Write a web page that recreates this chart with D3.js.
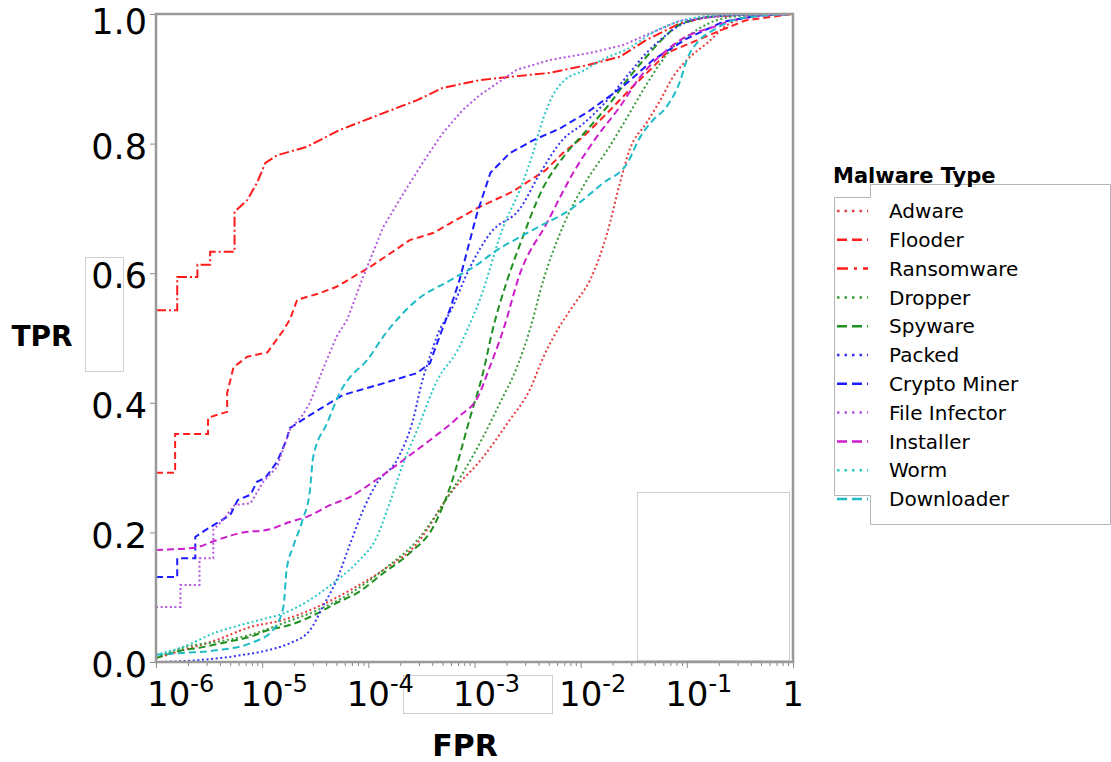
<!DOCTYPE html>
<html>
<head>
<meta charset="utf-8">
<script src="https://d3js.org/d3.v7.min.js"></script>
<style>
  body { margin: 0; background: #fff; }
  text { font-family: "DejaVu Sans", Verdana, sans-serif; fill: #000; }
</style>
</head>
<body>
<script>
// FPR stored as log10 exponents, TPR as fractions
var adwareLogFpr = [-6, -5.75, -5.43, -5.11, -4.80, -4.48, -4.17, -3.86, -3.54, -3.23, -2.95, -2.67, -2.48, -2.35, -2.22, -2.07, -1.91, -1.75, -1.63, -1.54, -1.38, -1.25, -1.13, -1.00, -0.81, -0.6, -0.3, 0];
var adwareTpr    = [0.006, 0.018, 0.034, 0.054, 0.065, 0.085, 0.111, 0.142, 0.183, 0.26, 0.31, 0.373, 0.42, 0.471, 0.512, 0.55, 0.59, 0.662, 0.739, 0.79, 0.832, 0.867, 0.903, 0.929, 0.955, 0.985, 0.998, 1];

var flooderLogFpr = [-6, -5.82, -5.82, -5.51, -5.51, -5.33, -5.33, -5.27, -5.14, -4.95, -4.80, -4.74, -4.67, -4.46, -4.30, -3.98, -3.61, -3.39, -2.98, -2.64, -2.33, -2.17, -1.98, -1.75, -1.54, -1.32, -1.19, -1.04, -0.75, -0.45, 0];
var flooderTpr    = [0.292, 0.292, 0.352, 0.352, 0.377, 0.386, 0.415, 0.455, 0.471, 0.478, 0.512, 0.528, 0.559, 0.569, 0.579, 0.61, 0.651, 0.662, 0.70, 0.726, 0.759, 0.785, 0.81, 0.847, 0.883, 0.918, 0.94, 0.95, 0.97, 0.99, 1];

var ransomLogFpr = [-6, -5.80, -5.80, -5.61, -5.61, -5.49, -5.49, -5.26, -5.26, -5.14, -5.05, -4.97, -4.86, -4.58, -4.27, -3.86, -3.54, -3.30, -2.95, -2.67, -2.30, -1.94, -1.63, -1.38, -1.06, -0.81, -0.4, 0];
var ransomTpr    = [0.543, 0.543, 0.594, 0.594, 0.613, 0.613, 0.633, 0.633, 0.695, 0.713, 0.739, 0.77, 0.782, 0.795, 0.821, 0.847, 0.867, 0.886, 0.898, 0.903, 0.909, 0.921, 0.934, 0.96, 0.986, 0.995, 1, 1];

var dropperLogFpr = [-6, -5.75, -5.43, -5.11, -4.80, -4.48, -4.17, -3.86, -3.54, -3.23, -2.92, -2.76, -2.60, -2.48, -2.35, -2.17, -1.94, -1.75, -1.56, -1.41, -1.25, -1.13, -1.00, -0.8, -0.5, 0];
var dropperTpr    = [0.006, 0.022, 0.031, 0.042, 0.06, 0.08, 0.106, 0.142, 0.188, 0.26, 0.347, 0.40, 0.455, 0.512, 0.59, 0.671, 0.744, 0.79, 0.841, 0.883, 0.924, 0.949, 0.965, 0.985, 0.997, 1];

var spywareLogFpr = [-6, -5.75, -5.59, -5.33, -5.11, -4.95, -4.74, -4.48, -4.30, -4.11, -3.86, -3.61, -3.39, -3.23, -3.04, -2.92, -2.83, -2.69, -2.57, -2.35, -2.15, -1.94, -1.72, -1.54, -1.38, -1.25, -1.05, -0.7, -0.4, 0];
var spywareTpr    = [0.006, 0.018, 0.022, 0.031, 0.039, 0.049, 0.057, 0.075, 0.091, 0.106, 0.137, 0.168, 0.208, 0.27, 0.378, 0.446, 0.512, 0.59, 0.645, 0.733, 0.782, 0.821, 0.863, 0.903, 0.934, 0.958, 0.985, 0.997, 0.999, 1];

var packedLogFpr = [-6, -5.59, -5.18, -4.95, -4.74, -4.55, -4.43, -4.30, -4.17, -4.05, -3.92, -3.73, -3.58, -3.49, -3.42, -3.33, -3.23, -3.04, -2.85, -2.57, -2.38, -2.17, -1.98, -1.75, -1.54, -1.38, -1.25, -1.06, -0.75, -0.4, 0];
var packedTpr    = [0, 0.003, 0.011, 0.018, 0.029, 0.049, 0.085, 0.126, 0.183, 0.234, 0.276, 0.312, 0.373, 0.435, 0.471, 0.512, 0.54, 0.61, 0.662, 0.70, 0.755, 0.806, 0.83, 0.867, 0.909, 0.94, 0.96, 0.983, 0.996, 0.999, 1];

var cryptoLogFpr = [-6, -5.80, -5.80, -5.63, -5.63, -5.52, -5.38, -5.30, -5.23, -5.11, -5.05, -4.97, -4.86, -4.77, -4.74, -4.55, -4.24, -3.86, -3.54, -3.42, -3.33, -3.23, -3.14, -2.98, -2.85, -2.67, -2.45, -2.20, -1.94, -1.72, -1.56, -1.32, -1.00, -0.66, -0.3, 0];
var cryptoTpr    = [0.131, 0.131, 0.16, 0.16, 0.193, 0.205, 0.219, 0.227, 0.25, 0.258, 0.278, 0.284, 0.309, 0.343, 0.361, 0.381, 0.412, 0.43, 0.446, 0.461, 0.502, 0.545, 0.59, 0.69, 0.755, 0.785, 0.805, 0.823, 0.848, 0.874, 0.894, 0.929, 0.962, 0.988, 0.998, 1];

var infectorLogFpr = [-6, -5.77, -5.77, -5.59, -5.59, -5.46, -5.46, -5.37, -5.26, -5.11, -4.99, -4.86, -4.74, -4.62, -4.55, -4.43, -4.30, -4.20, -4.05, -3.86, -3.67, -3.49, -3.30, -3.11, -2.95, -2.60, -2.29, -1.91, -1.60, -1.35, -1.06, -0.6, 0];
var infectorTpr    = [0.085, 0.085, 0.119, 0.119, 0.16, 0.16, 0.204, 0.219, 0.242, 0.245, 0.278, 0.301, 0.358, 0.381, 0.40, 0.451, 0.502, 0.528, 0.594, 0.671, 0.723, 0.77, 0.816, 0.852, 0.875, 0.914, 0.929, 0.94, 0.952, 0.97, 0.99, 0.998, 1];

var installerLogFpr = [-6, -5.65, -5.43, -5.18, -4.95, -4.74, -4.58, -4.36, -4.17, -3.98, -3.80, -3.61, -3.39, -3.16, -2.95, -2.88, -2.73, -2.57, -2.32, -2.07, -1.85, -1.63, -1.44, -1.22, -1.04, -0.75, -0.5, 0];
var installerTpr    = [0.173, 0.176, 0.188, 0.20, 0.204, 0.216, 0.224, 0.242, 0.255, 0.275, 0.296, 0.319, 0.346, 0.377, 0.415, 0.445, 0.512, 0.60, 0.677, 0.755, 0.81, 0.857, 0.903, 0.94, 0.962, 0.98, 0.993, 1];

var wormLogFpr = [-6, -5.75, -5.43, -5.27, -5.02, -4.80, -4.55, -4.33, -4.11, -3.92, -3.80, -3.67, -3.54, -3.35, -3.16, -3.07, -2.95, -2.73, -2.57, -2.45, -2.35, -2.26, -2.15, -1.98, -1.79, -1.56, -1.28, -1.04, -0.7, 0];
var wormTpr    = [0.011, 0.023, 0.046, 0.054, 0.065, 0.075, 0.096, 0.122, 0.153, 0.193, 0.245, 0.307, 0.358, 0.435, 0.481, 0.512, 0.559, 0.671, 0.73, 0.785, 0.84, 0.875, 0.898, 0.912, 0.93, 0.946, 0.975, 0.99, 0.998, 1];

var downloaderLogFpr = [-6, -5.75, -5.43, -5.11, -4.90, -4.80, -4.77, -4.71, -4.62, -4.55, -4.52, -4.39, -4.24, -4.17, -4.01, -3.86, -3.54, -3.23, -2.95, -2.83, -2.57, -2.45, -2.10, -1.79, -1.56, -1.44, -1.32, -1.19, -1.06, -1.00, -0.88, -0.75, -0.5, 0];
var downloaderTpr    = [0.011, 0.014, 0.018, 0.029, 0.049, 0.085, 0.142, 0.177, 0.219, 0.265, 0.316, 0.368, 0.424, 0.44, 0.466, 0.502, 0.559, 0.589, 0.616, 0.631, 0.656, 0.667, 0.698, 0.739, 0.77, 0.81, 0.836, 0.857, 0.898, 0.929, 0.96, 0.975, 0.993, 1];

var seriesNames = ["Adware", "Flooder", "Ransomware", "Dropper", "Spyware", "Packed", "Crypto Miner", "File Infector", "Installer", "Worm", "Downloader"];
var xTickExponents = [-6, -5, -4, -3, -2, -1, 0];
var yTickValues = [0, 0.2, 0.4, 0.6, 0.8, 1.0];

var dotted = "2,2.6", dashed = "7,4", dashDot = "10,3,2,3";

var series = [
  {name: seriesNames[0],  fpr: adwareLogFpr,     tpr: adwareTpr,     color: "#e8393c", dash: dotted,  step: false},
  {name: seriesNames[1],  fpr: flooderLogFpr,    tpr: flooderTpr,    color: "#ff1f1f", dash: dashed,  step: true},
  {name: seriesNames[2],  fpr: ransomLogFpr,     tpr: ransomTpr,     color: "#ff1a1a", dash: dashDot, step: true},
  {name: seriesNames[3],  fpr: dropperLogFpr,    tpr: dropperTpr,    color: "#3a9a3a", dash: dotted,  step: false},
  {name: seriesNames[4],  fpr: spywareLogFpr,    tpr: spywareTpr,    color: "#1f8f1f", dash: dashed,  step: false},
  {name: seriesNames[5],  fpr: packedLogFpr,     tpr: packedTpr,     color: "#3535ee", dash: dotted,  step: false},
  {name: seriesNames[6],  fpr: cryptoLogFpr,     tpr: cryptoTpr,     color: "#1c1cff", dash: dashed,  step: true},
  {name: seriesNames[7],  fpr: infectorLogFpr,   tpr: infectorTpr,   color: "#b455e0", dash: dotted,  step: true},
  {name: seriesNames[8],  fpr: installerLogFpr,  tpr: installerTpr,  color: "#cc1ecc", dash: dashed,  step: false},
  {name: seriesNames[9],  fpr: wormLogFpr,       tpr: wormTpr,       color: "#2ec8c8", dash: dotted,  step: false},
  {name: seriesNames[10], fpr: downloaderLogFpr, tpr: downloaderTpr, color: "#1fbcc8", dash: dashed,  step: false}
];

var W = 1111, H = 762;
var plotLeft = 156, plotRight = 793, plotTop = 14, plotBottom = 662;

var svg = d3.select("body").append("svg")
  .attr("width", W)
  .attr("height", H);

var x = d3.scaleLog().domain([1e-6, 1]).range([plotLeft, plotRight]);
var y = d3.scaleLinear().domain([0, 1]).range([plotBottom, plotTop]);

// stray grey boxes present in the original figure
var ghost = svg.append("g").attr("fill", "none").attr("stroke", "#cfcfcf").attr("stroke-width", 1);
ghost.append("rect").attr("x", 85.5).attr("y", 257.5).attr("width", 38).attr("height", 114);
ghost.append("rect").attr("x", 403.5).attr("y", 675.5).attr("width", 149).attr("height", 38);
ghost.append("rect").attr("x", 637.5).attr("y", 492.5).attr("width", 152).attr("height", 168);

// minor ticks on the log axis
var minor = [];
xTickExponents.slice(0, -1).forEach(function(e) {
  for (var k = 2; k <= 9; k++) minor.push(k * Math.pow(10, e));
});
svg.append("g")
  .attr("transform", "translate(0," + plotBottom + ")")
  .call(d3.axisBottom(x).tickValues(minor).tickSize(4).tickFormat(""))
  .call(function(g) { g.select(".domain").remove(); g.selectAll("line").attr("stroke", "#888"); });

svg.append("g")
  .attr("transform", "translate(0," + plotBottom + ")")
  .call(d3.axisBottom(x).tickValues(xTickExponents.map(function(e) { return Math.pow(10, e); })).tickSize(6).tickFormat(""))
  .call(function(g) { g.select(".domain").remove(); g.selectAll("line").attr("stroke", "#888"); });

// x tick labels with superscript exponents
var xl = svg.append("g");
xTickExponents.forEach(function(e) {
  var t = xl.append("text").attr("y", 706).style("font-size", "34px");
  if (e === 0) {
    t.attr("x", x(1)).attr("text-anchor", "middle").text("1");
  } else {
    var base = t.append("tspan").text("10");
    t.append("tspan").attr("dy", -14).style("font-size", "24px").text("-" + (-e));
    var w = base.node().getComputedTextLength();
    t.attr("x", Math.max(x(Math.pow(10, e)) - w / 2, 147));
  }
});

// y axis
svg.append("g")
  .attr("transform", "translate(" + plotLeft + ",0)")
  .call(d3.axisLeft(y).tickValues(yTickValues).tickSize(6).tickPadding(3).tickFormat(d3.format(".1f")))
  .call(function(g) {
    g.select(".domain").remove();
    g.selectAll("line").attr("stroke", "#888");
    g.selectAll("text").style("font-size", "35px").style("font-family", "DejaVu Sans, Verdana, sans-serif")
      .attr("dy", function(d) { return d === 1 ? "0.55em" : "0.42em"; });
  });

// curves
var line = d3.line()
  .x(function(d) { return x(Math.pow(10, d[0])); })
  .y(function(d) { return y(d[1]); });

svg.append("g").selectAll("path")
  .data(series)
  .join("path")
  .attr("fill", "none")
  .attr("stroke", function(d) { return d.color; })
  .attr("stroke-width", 2)
  .attr("stroke-dasharray", function(d) { return d.dash; })
  .attr("d", function(d) {
    var pts = d.fpr.map(function(v, i) { return [v, d.tpr[i]]; });
    return line.curve(d.step ? d3.curveLinear : d3.curveMonotoneX)(pts);
  });

// frame
svg.append("rect")
  .attr("x", plotLeft).attr("y", plotTop)
  .attr("width", plotRight - plotLeft).attr("height", plotBottom - plotTop)
  .attr("fill", "none").attr("stroke", "#999").attr("stroke-width", 2.5);

// axis titles
svg.append("text").attr("x", 42).attr("y", 346).attr("text-anchor", "middle")
  .style("font-size", "28px").style("font-weight", "bold").text("TPR");
svg.append("text").attr("x", 465).attr("y", 756).attr("text-anchor", "middle")
  .style("font-size", "30px").style("font-weight", "bold").text("FPR");

// legend
var lg = svg.append("g");
lg.append("path")
  .attr("d", "M870.5,184.5H1110.5V524.5H870.5V495.5H834.5V197.5H870.5Z")
  .attr("fill", "none").attr("stroke", "#b5b5b5").attr("stroke-width", 1);
lg.append("text").attr("x", 833).attr("y", 183)
  .style("font-size", "21px").style("font-weight", "bold").text("Malware Type");

var rows = lg.selectAll("g.row")
  .data(series)
  .join("g")
  .attr("class", "row")
  .attr("transform", function(d, i) { return "translate(0," + (211 + i * 28.8) + ")"; });
rows.append("line")
  .attr("x1", 837).attr("x2", 868)
  .attr("stroke", function(d) { return d.color; })
  .attr("stroke-width", 2.5)
  .attr("stroke-dasharray", function(d) { return d.dash === dotted ? "2.5,5" : (d.dash === dashed ? "10,5" : "11,6,3,6"); });
rows.append("text")
  .attr("x", 889).attr("dy", "0.36em")
  .style("font-size", "20px")
  .text(function(d) { return d.name; });
</script>
</body>
</html>
